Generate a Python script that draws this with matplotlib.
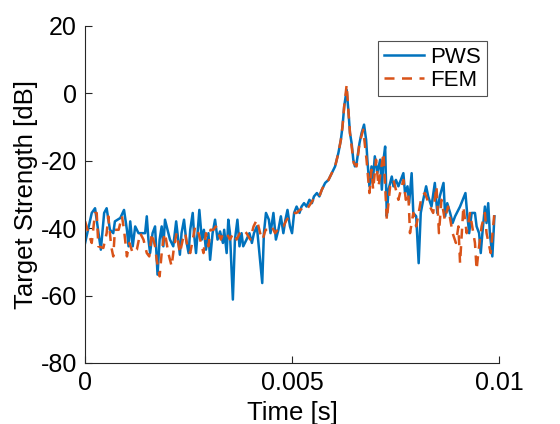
import matplotlib
matplotlib.use("Agg")
import matplotlib.pyplot as plt
import numpy as np

plt.rcParams['font.family'] = ['Liberation Sans', 'DejaVu Sans']

# PWS series: time [ms], target strength [dB]
pws_t = [0.00, 0.16, 0.24, 0.32, 0.38, 0.46, 0.52, 0.60, 0.68, 0.72, 0.85, 0.94, 1.01, 1.05, 1.09,
         1.15, 1.21, 1.29, 1.37, 1.45, 1.49, 1.53, 1.57, 1.63, 1.69, 1.75, 1.80, 1.85, 1.89, 1.93,
         2.01, 2.05, 2.13, 2.20, 2.25, 2.29, 2.33, 2.39, 2.44, 2.50, 2.54, 2.60, 2.63, 2.68, 2.74,
         2.76, 2.82, 2.87, 2.92, 2.98, 3.02, 3.08, 3.14, 3.20, 3.26, 3.33, 3.36, 3.42, 3.46, 3.50,
         3.57, 3.62, 3.68, 3.73, 3.78, 3.82, 3.90, 3.97, 4.03, 4.08, 4.15, 4.21, 4.28, 4.32, 4.37,
         4.44, 4.48, 4.55, 4.61, 4.67, 4.73, 4.79, 4.84, 4.89, 4.95, 5.00, 5.05, 5.11, 5.18, 5.23,
         5.29, 5.35, 5.42, 5.48, 5.53, 5.60, 5.66, 5.72, 5.80, 5.88, 5.96, 6.04, 6.12, 6.18, 6.22,
         6.26, 6.32, 6.36, 6.40, 6.44, 6.48, 6.52, 6.56, 6.63, 6.68, 6.74, 6.79, 6.82, 6.87, 6.92,
         6.95, 7.00, 7.06, 7.13, 7.17, 7.21, 7.25, 7.29, 7.33, 7.41, 7.45, 7.51, 7.57, 7.69, 7.73,
         7.79, 7.83, 7.89, 7.93, 8.00, 8.06, 8.11, 8.17, 8.24, 8.29, 8.37, 8.45, 8.51, 8.57, 8.66,
         8.70, 8.75, 8.82, 8.88, 8.94, 9.06, 9.19, 9.23, 9.28, 9.34, 9.42, 9.46, 9.52, 9.56, 9.60,
         9.66, 9.70, 9.74, 9.78, 9.84, 9.89]
pws_db = [-44.4, -35.5, -34.1, -41.0, -46.4, -35.5, -34.1, -40.5, -41.5, -38.0, -37.0, -34.6, -40.5, -45.4, -38.0,
          -45.4, -39.5, -41.5, -41.5, -41.5, -36.5, -43.4, -47.4, -41.5, -39.5, -53.8, -43.4, -39.5, -45.4, -37.5,
          -41.5, -43.4, -45.4, -38.0, -43.4, -47.9, -41.5, -37.5, -43.4, -47.4, -40.5, -35.5, -41.5, -47.4, -37.5,
          -34.6, -43.4, -40.5, -46.4, -41.5, -49.4, -41.5, -37.5, -43.4, -41.0, -44.4, -40.5, -47.4, -37.5, -41.5,
          -61.2, -43.4, -37.5, -45.4, -41.5, -45.4, -43.4, -41.5, -44.4, -41.5, -39.5, -47.4, -56.3, -41.5, -35.5,
          -37.5, -41.5, -35.5, -43.4, -40.5, -36.5, -41.5, -37.5, -34.6, -39.5, -41.5, -35.5, -33.6, -35.5, -33.6,
          -32.6, -33.6, -31.6, -32.6, -30.6, -29.6, -30.6, -28.6, -26.6, -25.7, -23.7, -21.7, -17.7, -13.8, -9.8,
          -3.9, 1.0, -4.9, -11.8, -14.8, -19.7, -21.7, -20.7, -14.8, -11.8, -9.3, -13.8, -19.7, -27.6, -21.7,
          -26.6, -18.7, -23.7, -19.7, -28.6, -19.7, -15.8, -36.5, -28.6, -24.7, -27.6, -25.7, -27.6, -23.7, -29.6,
          -27.6, -32.6, -23.7, -35.5, -36.5, -50.4, -35.5, -31.6, -27.6, -30.6, -33.6, -26.6, -35.5, -30.6, -26.6,
          -36.5, -32.6, -35.5, -38.5, -36.5, -33.6, -29.6, -35.5, -41.5, -35.5, -35.5, -39.5, -41.5, -47.4, -41.5,
          -33.6, -38.5, -32.6, -41.5, -48.4, -36.5]

# FEM series: time [ms], target strength [dB]
fem_t = [0.00, 0.08, 0.16, 0.24, 0.28, 0.32, 0.44, 0.52, 0.56, 0.63, 0.68, 0.72, 0.81, 0.89, 0.94,
         1.01, 1.07, 1.15, 1.25, 1.33, 1.41, 1.49, 1.55, 1.61, 1.69, 1.73, 1.80, 1.85, 1.89, 1.93,
         2.01, 2.09, 2.15, 2.21, 2.29, 2.36, 2.42, 2.47, 2.54, 2.60, 2.66, 2.74, 2.78, 2.86, 2.92,
         2.98, 3.03, 3.10, 3.16, 3.22, 3.28, 3.34, 3.42, 3.50, 3.58, 3.66, 3.74, 3.82, 3.90, 3.99,
         4.07, 4.15, 4.23, 4.29, 4.36, 4.43, 4.51, 4.59, 4.71, 4.79, 4.87, 4.95, 5.03, 5.11, 5.19,
         5.27, 5.35, 5.43, 5.51, 5.60, 5.66, 5.72, 5.80, 5.88, 5.96, 6.04, 6.12, 6.18, 6.22, 6.26,
         6.32, 6.36, 6.40, 6.46, 6.49, 6.56, 6.63, 6.72, 6.80, 6.87, 6.92, 6.96, 7.03, 7.09, 7.21,
         7.29, 7.37, 7.45, 7.57, 7.69, 7.75, 7.81, 7.85, 7.93, 8.00, 8.06, 8.13, 8.21, 8.33, 8.41,
         8.49, 8.55, 8.61, 8.69, 8.77, 8.88, 8.96, 9.02, 9.06, 9.14, 9.22, 9.30, 9.38, 9.42, 9.46,
         9.50, 9.58, 9.66, 9.70, 9.80, 9.89]
fem_db = [-38.0, -41.5, -44.4, -35.5, -35.5, -45.4, -45.9, -41.5, -36.5, -45.4, -48.4, -40.5, -40.5, -36.5, -40.5,
          -48.4, -44.4, -47.4, -46.4, -41.5, -43.4, -47.4, -48.4, -41.5, -45.4, -49.4, -54.3, -47.4, -43.4, -41.5,
          -47.4, -51.3, -45.4, -41.5, -47.4, -43.4, -41.5, -45.4, -47.4, -43.4, -39.5, -41.5, -43.4, -47.4, -41.5,
          -45.4, -40.5, -40.5, -39.5, -41.5, -43.4, -41.5, -41.5, -43.4, -41.5, -43.4, -41.5, -40.5, -41.5, -43.4,
          -39.5, -37.5, -41.5, -43.4, -40.5, -40.5, -39.5, -41.5, -39.5, -39.5, -37.5, -36.5, -35.5, -35.5, -34.6,
          -34.1, -34.6, -33.1, -31.6, -30.6, -30.6, -28.6, -26.6, -25.7, -23.7, -21.7, -17.7, -13.8, -9.8, -3.9,
          2.5, -4.9, -11.8, -17.7, -20.7, -21.7, -14.8, -10.8, -19.7, -29.6, -22.7, -28.6, -19.7, -27.6, -17.7,
          -37.5, -27.6, -25.7, -31.6, -25.7, -31.6, -29.6, -41.5, -35.5, -39.5, -35.5, -30.6, -29.6, -33.6, -35.5,
          -27.6, -41.5, -31.6, -37.5, -33.6, -41.5, -44.4, -39.5, -50.4, -33.6, -41.5, -35.5, -41.5, -44.4, -52.3,
          -47.4, -39.5, -35.5, -41.5, -47.4, -35.5]

fig = plt.figure(figsize=(5.6, 4.24), dpi=100)
ax = fig.add_axes([0.152, 0.144, 0.739, 0.795])

ax.plot(np.array(pws_t) * 1e-3, pws_db, color='#0072BD', lw=1.8, label='PWS')
ax.plot(np.array(fem_t) * 1e-3, fem_db, color='#D95319', lw=1.8, ls='--', dashes=(4, 3), label='FEM')

ax.set_xlim(0, 0.01)
ax.set_ylim(-80, 20)
ax.set_xticks([0, 0.005, 0.01])
ax.set_xticklabels(['0', '0.005', '0.01'])
ax.set_yticks([-80, -60, -40, -20, 0, 20])
ax.set_yticklabels(['-80', '-60', '-40', '-20', '0', '20'])
ax.tick_params(direction='in', labelsize=18, length=5, width=0.8, colors='#262626', pad=6)
for lab in ax.get_xticklabels() + ax.get_yticklabels():
    lab.set_color('black')
ax.spines['top'].set_visible(False)
ax.spines['right'].set_visible(False)
for s in ['left', 'bottom']:
    ax.spines[s].set_color('#262626')
    ax.spines[s].set_linewidth(0.8)

ax.set_xlabel('Time [s]', fontsize=18.5, labelpad=4)
ax.set_ylabel('Target Strength [dB]', fontsize=18.5, labelpad=2)

leg = ax.legend(loc='upper right', bbox_to_anchor=(0.97, 0.955), fontsize=16, frameon=True,
                fancybox=False, handlelength=1.8, handletextpad=0.3, borderpad=0.25,
                labelspacing=0.1, borderaxespad=0.0)
leg.get_frame().set_edgecolor('#262626')
leg.get_frame().set_linewidth(0.8)

fig.savefig('out.png', dpi=100)
